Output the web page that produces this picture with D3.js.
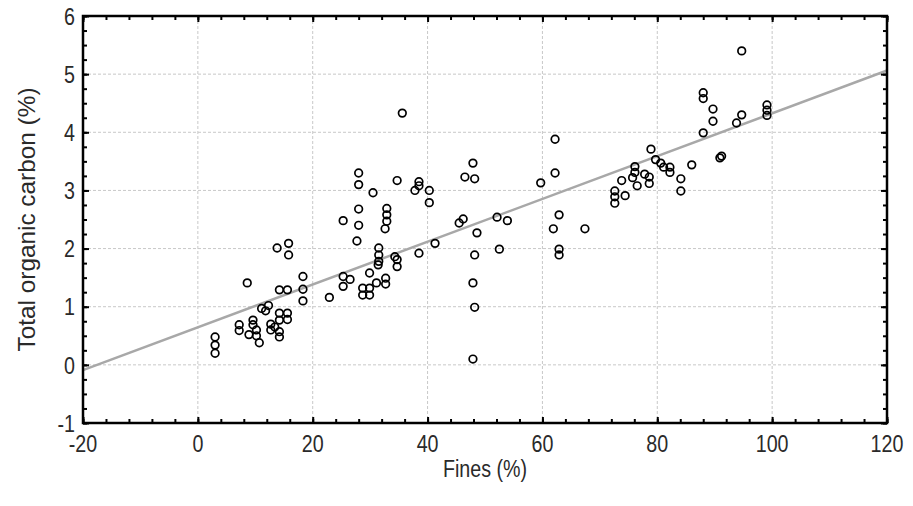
<!DOCTYPE html>
<html>
<head>
<meta charset="utf-8">
<script src="https://cdn.jsdelivr.net/npm/d3@7"></script>
<style>
  body { margin: 0; background: #fff; }
  svg text { font-family: "Liberation Sans", Arial, sans-serif; fill: #2a2a2a; }
</style>
</head>
<body>
<div id="chart"></div>
<script>
// Fines (%) vs total organic carbon (%)
var fines = [3.0, 3.0, 3.0, 8.6, 7.2, 7.2, 8.9, 9.6, 9.6, 10.2, 10.2, 10.7,
  11.1, 11.8, 12.3, 12.7, 12.7, 13.4, 14.2, 15.6, 15.6, 14.2, 14.2, 14.2,
  14.2, 15.6, 13.8, 15.8, 15.8, 18.3, 18.3, 18.3, 22.9,
  25.3, 25.3, 26.5, 25.3, 28.0, 28.0, 28.0, 28.0, 27.7, 30.5,
  28.7, 28.7, 29.9, 29.9, 31.1, 32.7, 32.7, 29.9, 31.4, 31.5, 31.5, 31.5,
  32.9, 32.9, 32.9, 32.6, 34.7, 34.3, 34.7, 34.7, 38.5,
  38.5, 38.5, 37.8, 40.3, 40.3, 41.3, 35.6,
  47.9, 46.5, 48.2, 45.5, 46.2, 48.6, 48.2, 47.9, 48.2, 47.9,
  52.1, 53.9, 52.5, 59.7, 62.2, 62.2, 62.9, 61.9, 67.4, 62.9, 62.9,
  72.6, 72.6, 72.6, 74.4, 73.8, 76.1, 76.1, 75.7, 76.5, 77.8, 78.6, 78.6,
  78.9, 79.7, 80.6, 81.1, 82.2, 82.2, 84.1, 84.1, 86.0,
  88.0, 88.0, 89.7, 89.7, 88.0, 90.9, 91.2, 94.7, 93.8, 94.7,
  99.1, 99.1, 99.1];
var toc = [0.48, 0.34, 0.20, 1.41, 0.69, 0.59, 0.52, 0.77, 0.69, 0.60, 0.50, 0.38,
  0.97, 0.93, 1.02, 0.70, 0.60, 0.65, 0.89, 0.89, 0.78, 0.77, 0.57, 0.48,
  1.29, 1.29, 2.01, 2.09, 1.89, 1.52, 1.30, 1.10, 1.16,
  2.48, 1.52, 1.47, 1.35, 3.30, 3.10, 2.68, 2.40, 2.13, 2.96,
  1.32, 1.20, 1.32, 1.20, 1.41, 1.49, 1.39, 1.58, 1.72, 2.01, 1.89, 1.78,
  2.69, 2.58, 2.47, 2.34, 3.17, 1.86, 1.81, 1.69, 1.92,
  3.15, 3.08, 3.00, 3.00, 2.79, 2.09, 4.33,
  3.47, 3.23, 3.20, 2.44, 2.51, 2.27, 1.89, 1.41, 0.99, 0.10,
  2.54, 2.48, 1.99, 3.13, 3.88, 3.30, 2.58, 2.34, 2.34, 1.99, 1.89,
  2.99, 2.89, 2.78, 2.91, 3.17, 3.41, 3.31, 3.22, 3.08, 3.28, 3.23, 3.12,
  3.71, 3.53, 3.47, 3.40, 3.40, 3.31, 3.20, 2.99, 3.44,
  4.68, 4.58, 4.40, 4.19, 3.99, 3.56, 3.59, 4.30, 4.16, 5.40,
  4.47, 4.38, 4.29];

// fitted line: toc = a + b * fines
var fitA = 0.646;
var fitB = 0.0368;

var xTicks = [-20, 0, 20, 40, 60, 80, 100, 120];
var yTicks = [-1, 0, 1, 2, 3, 4, 5, 6];

var svgWidth = 913;
var svgHeight = 506;
var margin = { top: 16, right: 26, bottom: 83, left: 83 };
var width = svgWidth - margin.left - margin.right;
var height = svgHeight - margin.top - margin.bottom;
var narrow = 0.82; // squeeze glyphs to look like a narrow face

var svg = d3.select("#chart").append("svg")
  .attr("width", svgWidth)
  .attr("height", svgHeight);

var chartGroup = svg.append("g")
  .attr("transform", `translate(${margin.left}, ${margin.top})`);

var xScale = d3.scaleLinear().domain([-20, 120]).range([0, width]);
var yScale = d3.scaleLinear().domain([-1, 6]).range([height, 0]);

var xMinor = d3.range(-20, 120.01, 4);
var yMinor = d3.range(-1, 6.01, 0.25);

// grid
chartGroup.append("g").selectAll("line").data(xTicks.slice(1, -1)).enter()
  .append("line")
  .attr("x1", d => xScale(d)).attr("x2", d => xScale(d))
  .attr("y1", 0).attr("y2", height)
  .attr("stroke", "#c8c8c8").attr("stroke-dasharray", "3,2");
chartGroup.append("g").selectAll("line").data(yTicks.slice(1, -1)).enter()
  .append("line")
  .attr("y1", d => yScale(d)).attr("y2", d => yScale(d))
  .attr("x1", 0).attr("x2", width)
  .attr("stroke", "#c8c8c8").attr("stroke-dasharray", "3,2");

// regression line
chartGroup.append("line")
  .attr("x1", xScale(-20)).attr("y1", yScale(fitA + fitB * -20))
  .attr("x2", xScale(120)).attr("y2", yScale(fitA + fitB * 120))
  .attr("stroke", "#a8a8a8")
  .attr("stroke-width", 2.5);

// points
chartGroup.append("g").selectAll("circle").data(fines).enter()
  .append("circle")
  .attr("cx", (d, i) => xScale(d))
  .attr("cy", (d, i) => yScale(toc[i]))
  .attr("r", 3.8)
  .attr("fill", "none")
  .attr("stroke", "#000")
  .attr("stroke-width", 1.7);

// ticks on all four sides, pointing inward
function tickAxis(axisFn, scale, values, size) {
  return axisFn(scale).tickValues(values).tickSize(-size).tickFormat("");
}
var sides = [
  { fn: d3.axisBottom, s: xScale, t: `translate(0, ${height})`, major: xTicks, minor: xMinor },
  { fn: d3.axisTop, s: xScale, t: "translate(0, 0)", major: xTicks, minor: xMinor },
  { fn: d3.axisLeft, s: yScale, t: "translate(0, 0)", major: yTicks, minor: yMinor },
  { fn: d3.axisRight, s: yScale, t: `translate(${width}, 0)`, major: yTicks, minor: yMinor }
];
sides.forEach(function(side) {
  [[side.minor, 4], [side.major, 6]].forEach(function(p) {
    var g = chartGroup.append("g")
      .attr("transform", side.t)
      .call(tickAxis(side.fn, side.s, p[0], p[1]));
    g.select(".domain").remove();
    g.selectAll("line").attr("stroke", "#000").attr("stroke-width", 2);
  });
});

// frame
chartGroup.append("rect")
  .attr("width", width).attr("height", height)
  .attr("fill", "none")
  .attr("stroke", "#000")
  .attr("stroke-width", 2.5);

// tick labels
chartGroup.append("g").selectAll("text").data(xTicks).enter()
  .append("text")
  .attr("transform", d => `translate(${xScale(d)}, ${height + 29}) scale(${narrow}, 1)`)
  .attr("text-anchor", "middle")
  .style("font-size", "24px")
  .text(d => d);

chartGroup.append("g").selectAll("text").data(yTicks).enter()
  .append("text")
  .attr("transform", d => `translate(-8, ${yScale(d)}) scale(${narrow}, 1)`)
  .attr("dy", "0.36em")
  .attr("text-anchor", "end")
  .style("font-size", "24px")
  .text(d => d);

// axis titles
chartGroup.append("text")
  .attr("transform", `translate(${width / 2}, ${height + 54}) scale(${narrow}, 1)`)
  .attr("text-anchor", "middle")
  .style("font-size", "24px")
  .text("Fines (%)");

chartGroup.append("text")
  .attr("transform", `translate(${-48}, ${height / 2 + 132}) rotate(-90)`)
  .attr("textLength", 264)
  .attr("lengthAdjust", "spacingAndGlyphs")
  .style("font-size", "24px")
  .text("Total organic carbon (%)");
</script>
</body>
</html>
